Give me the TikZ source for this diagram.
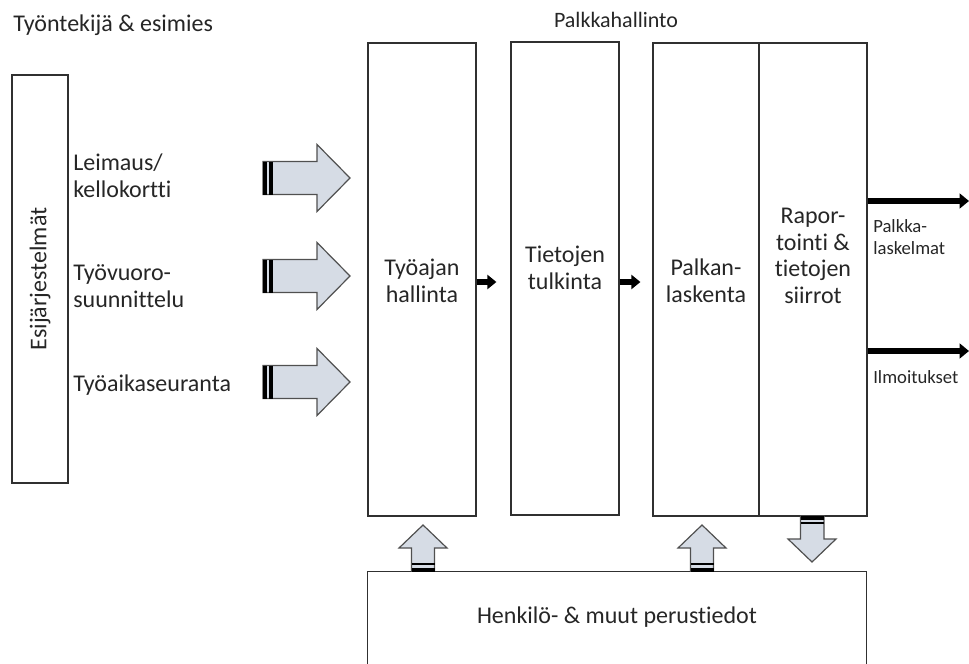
\documentclass[tikz,border=0pt]{standalone}
\usepackage{fontspec}
\setmainfont{Carlito}[Ligatures={NoCommon}]
\usetikzlibrary{arrows.meta}
\definecolor{afill}{HTML}{D6DCE5}
\definecolor{aline}{HTML}{505050}
\definecolor{txt}{HTML}{262626}
\definecolor{boxline}{HTML}{303030}
\begin{document}
\begin{tikzpicture}[x=0.75pt,y=-0.75pt,
  box/.style={draw=boxline, line width=0.9pt, inner sep=0pt},
  bigtext/.style={font=\fontsize{18}{20}\selectfont, text=txt, align=center, inner sep=0pt},
  lefttext/.style={font=\fontsize{18}{20}\selectfont, text=txt, align=left, inner sep=0pt},
  smalltext/.style={font=\fontsize{14}{16}\selectfont, text=txt, align=left, inner sep=0pt},
  blockarrow/.style={fill=afill, draw=aline, line width=0.9pt, line join=miter},
  band/.style={fill=black, draw=none},
  flow/.style={line width=4.5pt, black, -{Triangle[length=6.75pt,width=10.5pt]}},
  outflow/.style={line width=5pt, black, -{Triangle[length=7pt,width=11pt]}}]
\useasboundingbox (0,0) rectangle (969,663);
\clip (0,0) rectangle (969,663);

% titles
\node[lefttext, anchor=base west] (tyon) at (13,32) {Työntekijä \& esimies};
\node[bigtext, font=\fontsize{16.5}{18}\selectfont, anchor=base] (palk) at (616,28) {Palkkahallinto};

% left system box
\node[box, minimum width=42pt, minimum height=306pt] (esi) at (40,279) {};
\node[bigtext, rotate=90] (esit) at (esi.center) {Esijärjestelmät};

% left labels
\node[lefttext, anchor=west] (l1) at (73,176) {Leimaus/\\kellokortti};
\node[lefttext, anchor=west] (l2) at (73,286) {Työvuoro-\\suunnittelu};
\node[lefttext, anchor=west] (l3) at (73,385) {Työaikaseuranta};

% block arrows to the right
\foreach \c in {178,276,382}{
  \draw[blockarrow] (263,\c-16.5) -- (317,\c-16.5) -- (317,\c-33.5) -- (350,\c)
     -- (317,\c+33.5) -- (317,\c+16.5) -- (263,\c+16.5) -- cycle;
  \fill[band] (262.5,\c-16.5) rectangle (267,\c+16.5);
  \fill[band] (269,\c-16.5) rectangle (272.5,\c+16.5);
}

% columns
\node[box, minimum width=81pt, minimum height=354.75pt] (b1) at (422,279.5) {};
\node[box, minimum width=81pt, minimum height=354.75pt] (b2) at (565,278.5) {};
\node[box, minimum width=79.5pt, minimum height=354.75pt] (b3) at (706,279.5) {};
\node[box, minimum width=81pt, minimum height=354.75pt] (b4) at (813,279.5) {};

\node[bigtext] (t1) at (422,281) {Työajan\\hallinta};
\node[bigtext] (t2) at (565,268) {Tietojen\\tulkinta};
\node[bigtext] (t3) at (706,281) {Palkan-\\laskenta};
\node[bigtext] (t4) at (813,256) {Rapor-\\tointi \&\\tietojen\\siirrot};

% flow arrows between columns
\coordinate (f1) at (476,282);
\coordinate (f2) at (619,282);
\draw[flow, shorten >=10.5pt] (b1.east |- f1) -- (b2.west |- f1);
\draw[flow, shorten >=9pt] (b2.east |- f2) -- (b3.west |- f2);

% outputs
\coordinate (o1) at (969,201);
\coordinate (o2) at (969,351);
\draw[outflow] (b4.east |- o1) -- (o1);
\draw[outflow] (b4.east |- o2) -- (o2);
\node[smalltext, anchor=west] (pl) at (873,237) {Palkka-\\laskelmat};
\node[smalltext, anchor=west] (il) at (873,377) {Ilmoitukset};

% bottom box (open at the bottom edge)
\node[inner sep=0pt, minimum width=373.5pt, minimum height=75pt] (henk) at (617,622) {};
\draw[draw=boxline, line width=0.9pt] (henk.south west) -- (henk.north west) -- (henk.north east) -- (henk.south east);
\node[bigtext] (henkt) at (617,617) {Henkilö- \& muut perustiedot};

% up arrows
\foreach \a in {423,702}{
  \draw[blockarrow] (\a-11.5,571) -- (\a-11.5,548) -- (\a-24,548) -- (\a,525)
     -- (\a+24,548) -- (\a+11.5,548) -- (\a+11.5,571) -- cycle;
  \fill[band] (\a-11.5,562.5) rectangle (\a+11.5,565);
  \fill[band] (\a-11.5,567.5) rectangle (\a+11.5,571.5);
}
% down arrow
\draw[blockarrow] (800.5,516) -- (824,516) -- (824,539) -- (836,539) -- (812,562)
   -- (788,539) -- (800.5,539) -- cycle;
\fill[band] (800.5,516) rectangle (824,519.5);
\fill[band] (800.5,521.5) rectangle (824,524);
\end{tikzpicture}
\end{document}
